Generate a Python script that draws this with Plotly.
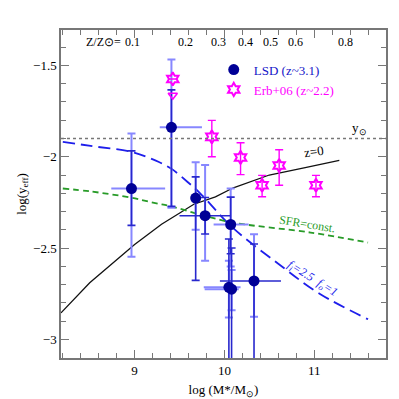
import plotly.graph_objects as go

# ---------------- data ----------------
# LSD (z~3.1) points
lsd_x = [8.965, 9.41, 9.68, 9.785, 10.07, 10.05, 10.08, 10.33]
lsd_y = [-2.174, -1.839, -2.226, -2.323, -2.371, -2.715, -2.725, -2.68]
lsd_xerr_lo = [0.225, 0.13, 0.0, 0.285, 0.19, 0.28, 0.30, 0.38]
lsd_xerr_hi = [0.375, 0.34, 0.0, 0.285, 0.20, 0.13, 0.08, 0.30]
lsd_xerr_light = [1, 1, 0, 0, 1, 1, 1, 0]   # 1: horizontal bar drawn light
lsd_dark_up = [0.206, 0.205, 0.116, 0.10, 0.15, 0.265, 0.225, 0.202]
lsd_dark_dn = [0.202, 0.433, 0.451, 0.10, 0.16, 0.60, 0.60, 0.60]
lsd_light_up = [0.301, 0.371, 0.196, 0.278, 0.197, 0.145, 0.105, 0.255]
lsd_light_dn = [0.374, 0.44, 0.174, 0.247, 0.23, 0.165, 0.115, 0.196]

# Erb+06 (z~2.2) points
erb_x = [9.425, 9.86, 10.18, 10.42, 10.61, 11.02]
erb_y = [-1.574, -1.891, -2.004, -2.156, -2.048, -2.156]
erb_err_up = [0.0, 0.090, 0.081, 0.054, 0.086, 0.054]
erb_err_dn = [0.0, 0.109, 0.094, 0.063, 0.108, 0.063]
erb_limit_x = [9.425]
erb_limit_y = [-1.663]

# model curves
z0_x = [8.18, 8.5, 9.0, 9.3, 9.66, 9.9, 10.1, 10.5, 10.9, 11.28]
z0_y = [-2.855, -2.69, -2.48, -2.37, -2.26, -2.22, -2.17, -2.10, -2.06, -2.02]

fi_x = [8.2, 8.51, 8.96, 9.23, 9.41, 9.59, 9.73, 10.09, 10.6, 11.06, 11.6]
fi_y = [-1.918, -1.941, -1.973, -2.02, -2.066, -2.138, -2.20, -2.387, -2.586, -2.75, -2.89]

sfr_x = [8.2, 8.51, 8.96, 9.23, 9.41, 9.73, 10.09, 10.96, 11.6]
sfr_y = [-2.174, -2.19, -2.224, -2.254, -2.272, -2.317, -2.36, -2.415, -2.47]

y_sun = -1.9

# top axis metallicity labels
z_labels = ["0.1", "0.2", "0.3", "0.4", "0.5", "0.6", "0.8"]
z_label_mass = [8.98, 9.57, 9.93, 10.23, 10.51, 10.79, 11.35]

# ---------------- styles ----------------
FONT = "Liberation Serif"
DARK = "rgb(0,0,150)"
DARK_ERR = "rgb(40,40,205)"
LIGHT_ERR = "rgb(135,135,255)"
MAG = "#ff00ff"
BLUE_LINE = "rgb(30,30,235)"
GREEN = "rgb(40,155,40)"

fig = go.Figure()

# y_sun dotted line
fig.add_hline(y=y_sun, line=dict(color="#777777", width=1.5, dash="dot"))

fig.add_trace(go.Scatter(x=z0_x, y=z0_y, mode="lines",
                         line=dict(color="#111111", width=1.3), showlegend=False))
fig.add_trace(go.Scatter(x=fi_x, y=fi_y, mode="lines", line_shape="spline",
                         line=dict(color=BLUE_LINE, width=1.8, dash="12px,6px"),
                         showlegend=False))
fig.add_trace(go.Scatter(x=sfr_x, y=sfr_y, mode="lines", line_shape="spline",
                         line=dict(color=GREEN, width=1.8, dash="6px,4px"),
                         showlegend=False))

# light error bars
lx_lo = [v if f else 0 for v, f in zip(lsd_xerr_lo, lsd_xerr_light)]
lx_hi = [v if f else 0 for v, f in zip(lsd_xerr_hi, lsd_xerr_light)]
dx_lo = [0 if f else v for v, f in zip(lsd_xerr_lo, lsd_xerr_light)]
dx_hi = [0 if f else v for v, f in zip(lsd_xerr_hi, lsd_xerr_light)]

fig.add_trace(go.Scatter(
    x=lsd_x, y=lsd_y, mode="markers",
    marker=dict(size=2, color="rgba(0,0,0,0)"),
    error_y=dict(type="data", symmetric=False, array=lsd_light_up, arrayminus=lsd_light_dn,
                 color=LIGHT_ERR, thickness=2, width=4),
    error_x=dict(type="data", symmetric=False, array=lx_hi, arrayminus=lx_lo,
                 color=LIGHT_ERR, thickness=2, width=0),
    showlegend=False))

fig.add_trace(go.Scatter(
    x=lsd_x, y=lsd_y, mode="markers",
    name='<span style="color:rgb(20,20,200)">LSD (z~3.1)</span>',
    marker=dict(size=11, color=DARK),
    error_y=dict(type="data", symmetric=False, array=lsd_dark_up, arrayminus=lsd_dark_dn,
                 color=DARK_ERR, thickness=1.6, width=4),
    error_x=dict(type="data", symmetric=False, array=dx_hi, arrayminus=dx_lo,
                 color=DARK_ERR, thickness=1.6, width=0)))

fig.add_trace(go.Scatter(
    x=erb_x, y=erb_y, mode="markers",
    name='<span style="color:#ff00ff">Erb+06 (z~2.2)</span>',
    marker=dict(symbol="hexagram-open", size=10, color=MAG, line=dict(width=2, color=MAG)),
    error_y=dict(type="data", symmetric=False, array=erb_err_up, arrayminus=erb_err_dn,
                 color=MAG, thickness=1.4, width=4)))

fig.add_trace(go.Scatter(
    x=erb_limit_x, y=erb_limit_y, mode="markers",
    marker=dict(symbol="triangle-down-open", size=8, color=MAG, line=dict(width=1.6, color=MAG)),
    showlegend=False))

# annotations
ann = []
for lab, m in zip(z_labels, z_label_mass):
    ann.append(dict(x=m, y=0.962, xref="x", yref="paper", text=lab, showarrow=False,
                    font=dict(family=FONT, size=12, color="black"), xanchor="center", yanchor="middle"))
ann.append(dict(x=z_label_mass[0], y=0.962, xref="x", yref="paper", text="Z/Z⊙=",
                showarrow=False, xshift=-10, font=dict(family=FONT, size=12, color="black"),
                xanchor="right", yanchor="middle"))
ann.append(dict(x=11.5, y=y_sun + 0.055, text="y<sub>⊙</sub>", showarrow=False,
                font=dict(family=FONT, size=13, color="black")))
ann.append(dict(x=11.0, y=-1.97, text="z=0", showarrow=False, textangle=-8,
                font=dict(family=FONT, size=13, color="black")))
ann.append(dict(x=10.92, y=-2.37, text="SFR=const.", showarrow=False, textangle=9,
                font=dict(family=FONT, size=12, color=GREEN)))
ann.append(dict(x=10.98, y=-2.67, text="<i>f<sub>i</sub>=2.5  f<sub>o</sub>=1</i>", showarrow=False,
                textangle=32, font=dict(family=FONT, size=12, color=BLUE_LINE)))

fig.update_layout(
    width=399, height=399,
    margin=dict(l=43, r=21, t=22, b=43),
    paper_bgcolor="white", plot_bgcolor="white",
    font=dict(family=FONT, size=13, color="black"),
    annotations=ann,
    legend=dict(x=0.47, y=0.925, xanchor="left", yanchor="top", bgcolor="rgba(0,0,0,0)",
                font=dict(family=FONT, size=13), itemwidth=30, tracegroupgap=0),
)

fig.update_xaxes(
    range=[8.18, 11.8], showgrid=False, zeroline=False,
    showline=True, linecolor="#777777", linewidth=1.5, mirror="allticks",
    ticks="inside", ticklen=8, tickcolor="#777777", tickwidth=1,
    tickvals=[9, 10, 11], ticktext=["9", "10", "11"],
    tickfont=dict(family=FONT, size=13),
    minor=dict(ticks="inside", ticklen=5, tickcolor="#777777", dtick=0.2, tick0=8.2, showgrid=False),
    title=dict(text="log (M*/M<sub>⊙</sub>)", font=dict(family=FONT, size=13), standoff=8),
)
fig.update_yaxes(
    range=[-3.102, -1.306], showgrid=False, zeroline=False,
    showline=True, linecolor="#777777", linewidth=1.5, mirror="allticks",
    ticks="inside", ticklen=8, tickcolor="#777777", tickwidth=1,
    tickvals=[-3, -2.5, -2, -1.5], ticktext=["−3", "−2.5", "−2", "−1.5"],
    tickfont=dict(family=FONT, size=13),
    minor=dict(ticks="inside", ticklen=5, tickcolor="#777777", dtick=0.1, tick0=-3, showgrid=False),
    title=dict(text="log(y<sub>eff</sub>)", font=dict(family=FONT, size=13), standoff=4),
)

fig.write_html("out.html")
